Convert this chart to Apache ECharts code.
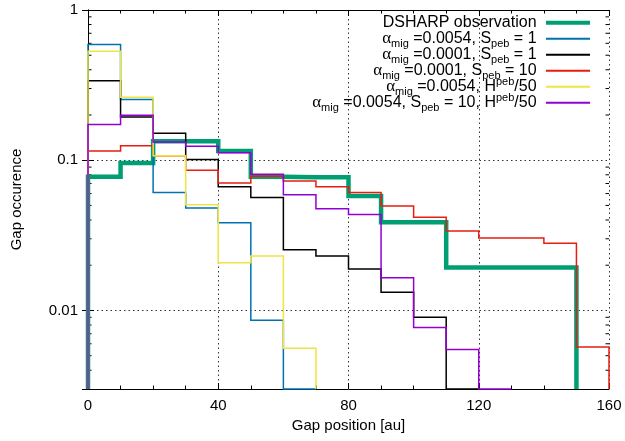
<!DOCTYPE html>
<html>
<head>
<meta charset="utf-8">
<script src="https://cdn.jsdelivr.net/npm/echarts@6/dist/echarts.min.js"></script>
<style>
  html, body { margin: 0; padding: 0; background: #fff; }
  #chart { width: 625px; height: 441px; }
</style>
</head>
<body>
<div id="chart"></div>
<script>
// bin edges of the gap-position histograms [au]
const binEdges = [0, 10, 20, 30, 40, 50, 60, 70, 80, 90, 100, 110, 120, 130, 140, 150, 160];
const yMin = 0.003;
const yMax = 1;
const xTickLabels = [0, 40, 80, 120, 160];
const yMinorTicks = [0.004, 0.005, 0.006, 0.007, 0.008, 0.009,
  0.02, 0.03, 0.04, 0.05, 0.06, 0.07, 0.08, 0.09,
  0.2, 0.3, 0.4, 0.5, 0.6, 0.7, 0.8, 0.9];

// gap occurrence per 10 au bin (yMin = bin sits on the bottom axis)
const dsharp = [0.0775, 0.096, 0.134, 0.134, 0.115, 0.0775, 0.077, 0.077, 0.0577, 0.0386, 0.0386, 0.0193, 0.0193, 0.0193, 0.0193];
const a0054s1 = [0.589, 0.254, 0.061, 0.048, 0.0384, 0.0086, yMin];
const a0001s1 = [0.338, 0.194, 0.151, 0.101, 0.0665, 0.0565, 0.0254, 0.023, 0.0189, 0.0132, 0.009, yMin];
const a0001s10 = [0.115, 0.125, 0.107, 0.0858, 0.0704, 0.0783, 0.0726, 0.0665, 0.061, 0.0495, 0.0417, 0.0338, 0.0304, 0.0304, 0.028, 0.0057];
const a0054h50 = [0.531, 0.263, 0.107, 0.0505, 0.0208, 0.023, 0.0056];
const a0054s10h50 = [0.173, 0.199, 0.132, 0.124, 0.112, 0.0807, 0.0589, 0.0475, 0.0436, 0.0165, 0.0077, 0.0055, yMin];

const seriesNames = ['DSHARP observation', 'a0054s1', 'a0001s1', 'a0001s10', 'a0054h50', 'a0054s10h50'];
const legendLabels = [
  'DSHARP observation ',
  '{al|α}{sub|mig} =0.0054, S{sub|peb} = 1 ',
  '{al|α}{sub|mig} =0.0001, S{sub|peb} = 1 ',
  '{al|α}{sub|mig} =0.0001, S{sub|peb} = 10 ',
  '{al|α}{sub|mig} =0.0054, H{sup|peb}/50 ',
  '{al|α}{sub|mig} =0.0054, S{sub|peb} = 10, H{sup|peb}/50 '
];
const seriesData = [dsharp, a0054s1, a0001s1, a0001s10, a0054h50, a0054s10h50];
const colors = ['#009e73', '#0072b2', '#000000', '#e51e10', '#f0e442', '#9400d3'];
const widths = [4.5, 1.5, 1.5, 1.5, 1.5, 1.5];

const FONT = '"Liberation Sans", Arial, Helvetica, sans-serif';

function stepPoints(vals) {
  const pts = [[binEdges[0], yMin]];
  vals.forEach((v, i) => {
    pts.push([binEdges[i], v], [binEdges[i + 1], v]);
  });
  pts.push([binEdges[vals.length], yMin]);
  return pts;
}

function logLabel(v) {
  const e = Math.round(Math.log10(v));
  if (Math.abs(Math.log10(v) - e) > 1e-6) return '';
  return String(+Math.pow(10, e).toFixed(e < 0 ? -e : 0));
}

const chart = echarts.init(document.getElementById('chart'));

const tickStyle = { inside: true, length: 6, lineStyle: { color: '#000', width: 1 } };
const minorStyle = { show: true, splitNumber: 4, length: 3.5, lineStyle: { color: '#000', width: 1 } };
const dotted = { show: true, lineStyle: { color: '#333', width: 1, type: [1.5, 3] } };

const richText = {
  al: { fontSize: 17, fontFamily: '"Liberation Serif", "DejaVu Serif", serif', lineHeight: 21, color: '#000' },
  sub: { fontSize: 11, fontFamily: FONT, lineHeight: 11, padding: [10, 0, 0, 0], color: '#000' },
  sup: { fontSize: 11, fontFamily: FONT, lineHeight: 11, padding: [0, 0, 10, 0], color: '#000' }
};

const option = {
  animation: false,
  backgroundColor: '#fff',
  grid: { left: 88, right: 16, top: 10, bottom: 52, outerBoundsMode: 'none' },
  legend: seriesNames.map((n, i) => ({
    data: [n],
    right: 35,
    top: 22.8 + 16 * i - 10.5,
    orient: 'horizontal',
    align: 'right',
    icon: 'rect',
    itemWidth: 44,
    itemHeight: i === 0 ? 4 : 2,
    padding: 0,
    selectedMode: false,
    formatter: () => legendLabels[i],
    textStyle: { fontSize: 16, lineHeight: 21, fontFamily: FONT, color: '#000', rich: richText }
  })),
  xAxis: [
    {
      type: 'value', min: 0, max: 160, interval: 40, position: 'bottom',
      name: 'Gap position [au]', nameLocation: 'middle', nameGap: 28,
      nameTextStyle: { fontSize: 15, fontFamily: FONT, color: '#000' },
      axisLine: { lineStyle: { color: '#000', width: 1 } },
      axisTick: tickStyle, minorTick: minorStyle,
      axisLabel: { fontSize: 15, fontFamily: FONT, color: '#000', margin: 9,
        formatter: v => xTickLabels.includes(v) ? String(v) : '' },
      splitLine: dotted
    },
    {
      type: 'value', min: 0, max: 160, interval: 40, position: 'top',
      axisLine: { lineStyle: { color: '#000', width: 1 } },
      axisTick: tickStyle, minorTick: minorStyle,
      axisLabel: { show: false }, splitLine: { show: false }
    }
  ],
  yAxis: [
    {
      type: 'log', logBase: 10, min: yMin, max: yMax, position: 'left',
      name: 'Gap occurence', nameLocation: 'middle', nameGap: 64,
      nameTextStyle: { fontSize: 15, fontFamily: FONT, color: '#000' },
      axisLine: { lineStyle: { color: '#000', width: 1 } },
      axisTick: tickStyle,
      axisLabel: { fontSize: 15, fontFamily: FONT, color: '#000', margin: 10, showMinLabel: false,
        formatter: logLabel },
      splitLine: dotted
    },
    {
      type: 'log', logBase: 10, min: yMin, max: yMax, position: 'right',
      axisLine: { lineStyle: { color: '#000', width: 1 } },
      axisTick: tickStyle,
      axisLabel: { show: false }, splitLine: { show: false }
    }
  ],
  series: [
    ...seriesNames.map((n, i) => ({
      type: 'line',
      name: n,
      data: stepPoints(seriesData[i]),
      symbol: 'none',
      clip: false,
      color: colors[i],
      itemStyle: { color: colors[i] },
      lineStyle: { color: colors[i], width: widths[i], join: 'miter', cap: 'butt' }
    })),
    {
      type: 'custom',
      name: 'yMinorTicks',
      silent: true,
      clip: false,
      data: yMinorTicks.map(v => [0, v]),
      renderItem: (params, api) => {
        const v = api.value(1);
        const l = api.coord([0, v]);
        const r = api.coord([160, v]);
        return {
          type: 'group',
          children: [
            { type: 'line', shape: { x1: l[0], y1: l[1], x2: l[0] + 3.5, y2: l[1] }, style: { stroke: '#000', lineWidth: 1 } },
            { type: 'line', shape: { x1: r[0] - 3.5, y1: r[1], x2: r[0], y2: r[1] }, style: { stroke: '#000', lineWidth: 1 } }
          ]
        };
      }
    }
  ]
};

chart.setOption(option);
</script>
</body>
</html>
